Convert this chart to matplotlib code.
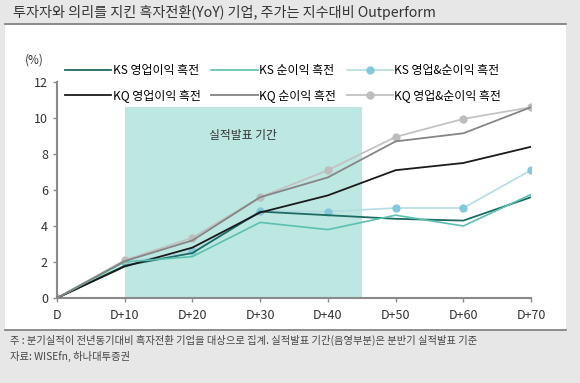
import matplotlib

matplotlib.use("Agg")
import matplotlib.pyplot as plt
from matplotlib.patches import Rectangle
from matplotlib.lines import Line2D

plt.rcParams["font.family"] = ["Noto Sans CJK KR", "DejaVu Sans"]

days = [0, 10, 20, 30, 40, 50, 60, 70]
day_labels = ["D", "D+10", "D+20", "D+30", "D+40", "D+50", "D+60", "D+70"]

ks_op = [0, 1.8, 2.5, 4.8, 4.6, 4.4, 4.3, 5.6]
ks_ni = [0, 2.0, 2.3, 4.2, 3.8, 4.6, 4.0, 5.75]
ks_both = [0, 2.0, 2.6, 4.85, 4.8, 5.0, 5.0, 7.1]
kq_op = [0, 1.75, 2.8, 4.75, 5.7, 7.1, 7.5, 8.4]
kq_ni = [0, 2.05, 3.2, 5.6, 6.7, 8.7, 9.15, 10.6]
kq_both = [0, 2.1, 3.35, 5.6, 7.1, 8.95, 9.95, 10.6]

shade_start, shade_end, shade_top = 10, 45, 10.6

title = "투자자와 의리를 지킨 흑자전환(YoY) 기업, 주가는 지수대비 Outperform"
note = "주 : 분기실적이 전년동기대비 흑자전환 기업을 대상으로 집계. 실적발표 기간(음영부분)은 분반기 실적발표 기준"
source = "자료: WISEfn, 하나대투증권"

W, H = 580, 383
fig = plt.figure(figsize=(W / 100, H / 100), dpi=100, facecolor="#e7e7e7")

# white panel + rules
fig.patches.append(Rectangle((5 / W, 1 - 330 / H), 561 / W, 305 / H, transform=fig.transFigure,
                             facecolor="white", edgecolor="none", zorder=-5))
fig.add_artist(Line2D([5 / W, 566 / W], [1 - 24 / H] * 2, color="#7a7a7a", lw=1.2))
fig.add_artist(Line2D([5 / W, 566 / W], [1 - 330 / H] * 2, color="#7a7a7a", lw=1.2))

fig.text(13 / W, 1 - 12 / H, title, fontsize=10.2, color="#333333", va="center", ha="left")
fig.text(10 / W, 1 - 340 / H, note, fontsize=7.4, color="#444444", va="center", ha="left")
fig.text(10 / W, 1 - 356 / H, source, fontsize=7.4, color="#444444", va="center", ha="left")

ax = fig.add_axes([57 / W, 1 - 298 / H, (531 - 57) / W, (298 - 82) / H])
ax.set_facecolor("none")
ax.set_xlim(0, 70)
ax.set_ylim(0, 12)

ax.add_patch(Rectangle((shade_start, 0), shade_end - shade_start, shade_top,
                       facecolor="#bde7e1", edgecolor="none", zorder=0))
ax.text((shade_start + shade_end) / 2, 9.0, "실적발표 기간", fontsize=8.5, color="#333333",
        ha="center", va="center")

ax.plot(days, ks_op, color="#1d6b62", lw=1.3, label="KS 영업이익 흑전", zorder=3)
ax.plot(days, kq_op, color="#1a1a1a", lw=1.3, label="KQ 영업이익 흑전", zorder=3)
ax.plot(days, ks_ni, color="#5cc0b1", lw=1.2, label="KS 순이익 흑전", zorder=3)
ax.plot(days, kq_ni, color="#858585", lw=1.3, label="KQ 순이익 흑전", zorder=3)
ax.plot(days, ks_both, color="#b3dce4", lw=1.2, marker="o", ms=5, mfc="#86c8da", mec="#86c8da",
        label="KS 영업&순이익 흑전", zorder=2)
ax.plot(days, kq_both, color="#c2c2c2", lw=1.3, marker="o", ms=5, mfc="#bdbdbd", mec="#bdbdbd",
        label="KQ 영업&순이익 흑전", zorder=2)

ax.set_xticks(days)
ax.set_xticklabels(day_labels)
ax.set_yticks(range(0, 13, 2))
for side in ["top", "right"]:
    ax.spines[side].set_visible(False)
for side in ["left", "bottom"]:
    ax.spines[side].set_color("#8a8a8a")
    ax.spines[side].set_linewidth(1.5)
ax.tick_params(axis="both", colors="#8a8a8a", labelcolor="#333333", labelsize=9, length=3, width=1)
ax.tick_params(axis="x", pad=5)
ax.text(-3.3, 13.2, "(%)", fontsize=8.5, color="#333333", ha="center", va="center")

handles, labels = ax.get_legend_handles_labels()
fig.legend(handles, labels, ncol=3, frameon=False, fontsize=8.6, loc="upper left",
           bbox_to_anchor=(60 / W, 1 - 59 / H), handlelength=3.9, handletextpad=0.1,
           columnspacing=0.9, labelspacing=1.05, borderaxespad=0)

fig.savefig("out.png", dpi=100, facecolor=fig.get_facecolor())
